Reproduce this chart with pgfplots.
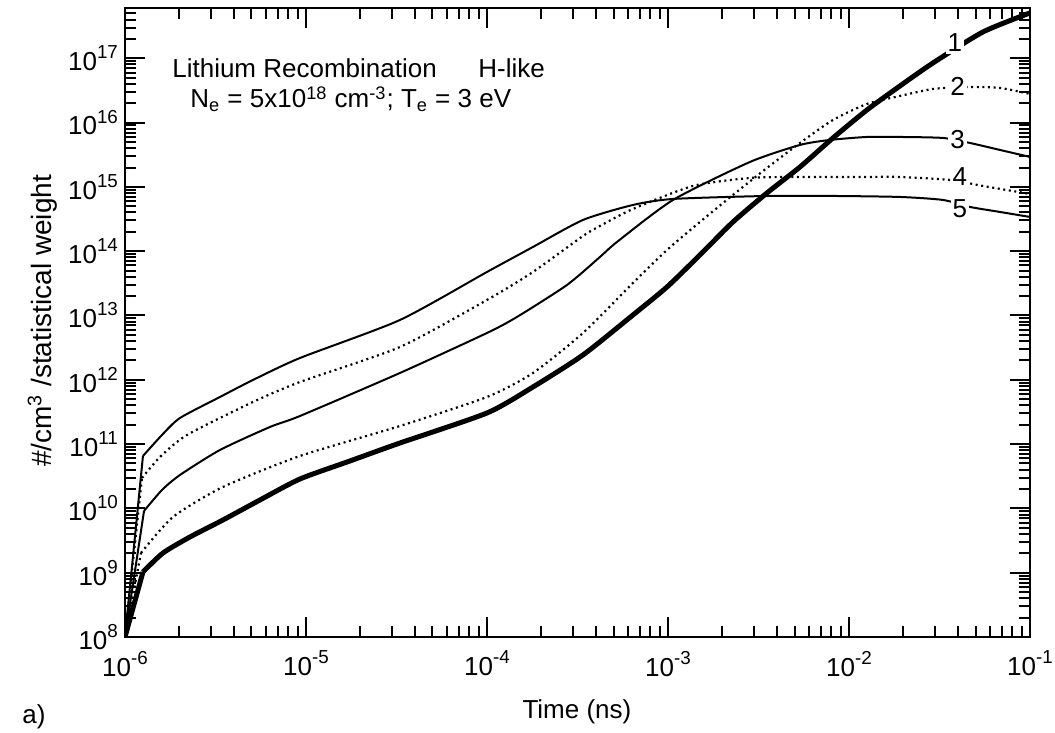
\documentclass[border=0pt]{standalone}
\usepackage{fontspec}
\setmainfont{Liberation Sans}
\usepackage{pgfplots}
\pgfplotsset{compat=1.18}
\newcommand{\fs}{\fontsize{13}{15}\selectfont}
\begin{document}
\begin{tikzpicture}
\begin{axis}[
  xmode=log, ymode=log, log basis x=10, log basis y=10,
  scale only axis, width=452.5pt, height=314.5pt,
  xmin=1e-6, xmax=0.1, ymin=1e8, ymax=6.05e17,
  xtickten={-6,...,-1}, ytickten={8,...,17},
  minor xtick={2e-6,3e-6,4e-6,5e-6,6e-6,7e-6,8e-6,9e-6,
    2e-5,3e-5,4e-5,5e-5,6e-5,7e-5,8e-5,9e-5,
    2e-4,3e-4,4e-4,5e-4,6e-4,7e-4,8e-4,9e-4,
    2e-3,3e-3,4e-3,5e-3,6e-3,7e-3,8e-3,9e-3,
    2e-2,3e-2,4e-2,5e-2,6e-2,7e-2,8e-2,9e-2},
  minor ytick={2e8,3e8,4e8,5e8,6e8,7e8,8e8,9e8,
    2e9,3e9,4e9,5e9,6e9,7e9,8e9,9e9,
    2e10,3e10,4e10,5e10,6e10,7e10,8e10,9e10,
    2e11,3e11,4e11,5e11,6e11,7e11,8e11,9e11,
    2e12,3e12,4e12,5e12,6e12,7e12,8e12,9e12,
    2e13,3e13,4e13,5e13,6e13,7e13,8e13,9e13,
    2e14,3e14,4e14,5e14,6e14,7e14,8e14,9e14,
    2e15,3e15,4e15,5e15,6e15,7e15,8e15,9e15,
    2e16,3e16,4e16,5e16,6e16,7e16,8e16,9e16,
    2e17,3e17,4e17,5e17,6e17},
  axis line style={line width=1.3pt},
  tick style={line width=1pt, black},
  major tick length=10pt, minor tick length=5.5pt,
  tick align=inside,
  /pgf/number format/assume math mode=true,
  log number format basis/.code 2 args={#1\raisebox{0.46em}{\fontsize{9.4}{10}\selectfont\pgfmathprintnumber{#2}}},
  tick label style={font=\fs},
  xticklabel style={yshift=-3.5pt},
  clip mode=individual,
]
\addplot[black, line width=2.5pt, smooth, tension=0.4] coordinates {
(1.257e-6,1.025e9) (1.622e-6,2.025e9) (2.285e-6,3.592e9) (3.478e-6,6.601e9)
(5.569e-6,1.351e10) (9.267e-6,2.866e10) (1.750e-5,5.461e10) (3.306e-5,1.040e11)
(1.000e-4,3.045e11) (1.795e-4,7.727e11) (3.391e-4,2.431e12) (6.405e-4,1.018e13)
(9.874e-4,2.775e13) (1.502e-3,8.729e13) (2.286e-3,2.846e14) (3.523e-3,8.036e14)
(5.362e-3,2.039e15) (8.157e-3,5.761e15) (1.257e-2,1.570e16) (1.913e-2,3.709e16)
(2.911e-2,8.452e16) (5.498e-2,2.564e17) (0.1,5.064e17)};
\addplot[black, line width=2.5pt] coordinates {(1e-6,1e8) (1.257e-6,1.025e9)};

\addplot[black, line width=1.1pt, dash pattern=on 1pt off 1.8pt, smooth, tension=0.4] coordinates {
(1.226e-6,2.025e9) (1.842e-6,7.350e9) (3.478e-6,2.152e10) (9.267e-6,6.530e10)
(3.306e-5,1.912e11) (1.000e-4,5.402e11) (1.795e-4,1.276e12)
(3.391e-4,5.343e12) (6.405e-4,3.201e13) (9.874e-4,1.044e14) (1.502e-3,2.846e14)
(2.286e-3,7.482e14) (3.523e-3,1.968e15) (5.362e-3,4.816e15) (8.157e-3,1.098e16)
(1.257e-2,1.947e16) (1.913e-2,2.593e16) (2.911e-2,3.332e16) (4.486e-2,3.579e16)
(6.828e-2,3.453e16) (0.1,2.785e16)};
\addplot[black, line width=1.1pt, dash pattern=on 1pt off 1.8pt] coordinates {(1e-6,1e8) (1.226e-6,2.025e9)};

\addplot[black, line width=1pt, smooth, tension=0.4] coordinates {
(1.274e-6,9.112e9) (1.601e-6,1.933e10) (2.013e-6,3.307e10) (3.348e-6,8.094e10)
(6.325e-6,1.845e11) (9.267e-6,2.735e11) (3.306e-5,1.276e12)
(1.000e-4,5.343e12) (1.464e-4,9.478e12) (2.767e-4,2.981e13) (4.209e-4,8.125e13)
(5.226e-4,1.390e14) (1.066e-3,6.257e14) (2.838e-3,2.439e15) (5.362e-3,4.483e15)
(7.852e-3,5.363e15) (1.257e-2,5.970e15) (1.913e-2,5.970e15) (3.306e-2,5.761e15)
(4.661e-2,4.816e15) (6.828e-2,3.750e15) (0.1,2.917e15)};
\addplot[black, line width=1pt] coordinates {(1e-6,1e8) (1.274e-6,9.112e9)};

\addplot[black, line width=1.1pt, dash pattern=on 1pt off 1.8pt, smooth, tension=0.4] coordinates {
(1.241e-6,2.971e10) (1.561e-6,6.301e10) (2.201e-6,1.385e11) (5.095e-6,4.515e11)
(9.267e-6,9.244e11) (3.306e-5,3.237e12) (1.000e-4,1.742e13)
(1.795e-4,4.749e13) (3.391e-4,1.723e14) (4.209e-4,2.465e14) (6.405e-4,4.532e14)
(1.374e-3,1.033e15) (2.838e-3,1.375e15) (5.362e-3,1.426e15) (1.257e-2,1.426e15)
(1.913e-2,1.426e15) (3.614e-2,1.280e15) (5.498e-2,1.033e15) (0.1,7.755e14)};
\addplot[black, line width=1.1pt, dash pattern=on 1pt off 1.8pt] coordinates {(1e-6,1e8) (1.241e-6,2.971e10)};

\addplot[black, line width=1pt, smooth, tension=0.4] coordinates {
(1.257e-6,6.530e10) (1.601e-6,1.385e11) (2.013e-6,2.546e11) (3.348e-6,5.402e11)
(5.095e-6,9.929e11) (9.267e-6,2.183e12) (3.306e-5,8.511e12)
(1.000e-4,4.749e13) (1.795e-4,1.162e14) (3.391e-4,3.057e14) (6.405e-4,5.231e14)
(1.066e-3,6.484e14) (3.523e-3,7.219e14) (8.157e-3,7.219e14) (1.913e-2,6.965e14)
(3.306e-2,6.257e14) (4.661e-2,4.868e14) (6.828e-2,4.071e14) (0.1,3.403e14)};
\addplot[black, line width=1pt] coordinates {(1e-6,1e8) (1.257e-6,6.530e10)};

\node[fill=white, inner sep=1pt, font=\fs] at (axis cs:0.0385,1.74e17) {1};
\node[fill=white, inner sep=1pt, font=\fs] at (axis cs:0.0398,3.6e16) {2};
\node[fill=white, inner sep=1pt, font=\fs] at (axis cs:0.0398,5.37e15) {3};
\node[fill=white, inner sep=1pt, font=\fs] at (axis cs:0.041,1.45e15) {4};
\node[fill=white, inner sep=1pt, font=\fs] at (axis cs:0.041,4.53e14) {5};

\node[anchor=base west, inner sep=0pt, font=\fs] at (rel axis cs:0.0519,0.889) {Lithium Recombination};
\node[anchor=base west, inner sep=0pt, font=\fs] at (rel axis cs:0.390,0.889) {H-like};
\node[anchor=base west, inner sep=0pt, font=\fs] at (rel axis cs:0.0718,0.841) {N\textsubscript{e} = 5x10\textsuperscript{18} cm\textsuperscript{-3}; T\textsubscript{e} = 3 eV};

\node[anchor=base, inner sep=0pt, rotate=90, font=\fontsize{14}{16}\selectfont] at (rel axis cs:-0.0807,0.5024) {\#/cm\textsuperscript{3} /statistical weight};
\node[anchor=base, inner sep=0pt, font=\fs] at (rel axis cs:0.4994,-0.130) {Time (ns)};
\node[anchor=base west, inner sep=0pt, font=\fs] at (rel axis cs:-0.1138,-0.1383) {a)};

\coordinate (O) at (rel axis cs:0,0);
\coordinate (T) at (rel axis cs:1,1);
\end{axis}
\pgfresetboundingbox
\path[use as bounding box] ([shift={(-62.5pt,-48pt)}]O) rectangle ([shift={(12.5pt,4pt)}]T);
\end{tikzpicture}
\end{document}
